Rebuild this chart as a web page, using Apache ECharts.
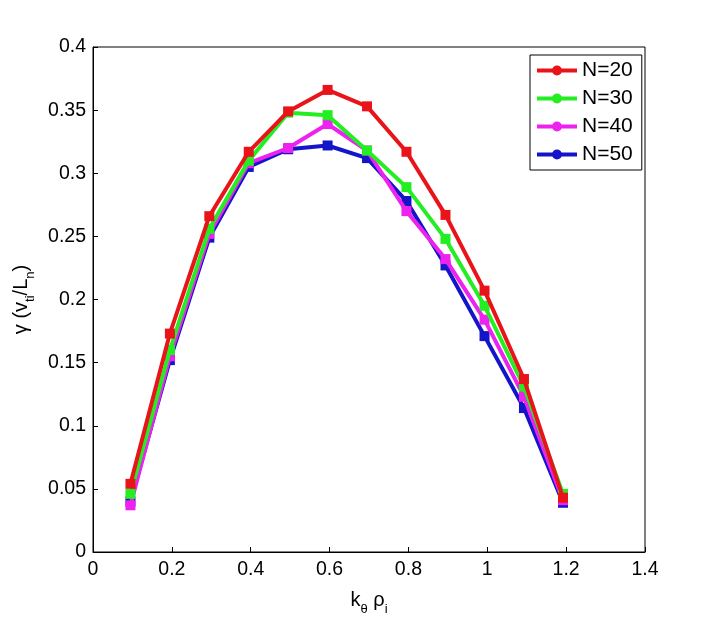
<!DOCTYPE html>
<html><head><meta charset="utf-8">
<script src="https://cdn.jsdelivr.net/npm/echarts@6/dist/echarts.min.js"></script>
<style>html,body{margin:0;padding:0;background:#fff}#c{width:714px;height:621px}</style>
</head><body><div id="c"></div>
<script>
const kValues = [0.095, 0.195, 0.295, 0.395, 0.495, 0.595, 0.695, 0.795, 0.894, 0.993, 1.093, 1.192];
const n20 = [0.054, 0.173, 0.266, 0.317, 0.349, 0.366, 0.353, 0.317, 0.267, 0.207, 0.137, 0.043];
const n30 = [0.046, 0.160, 0.256, 0.310, 0.348, 0.346, 0.318, 0.289, 0.248, 0.195, 0.131, 0.046];
const n40 = [0.037, 0.155, 0.252, 0.308, 0.320, 0.339, 0.318, 0.270, 0.232, 0.184, 0.123, 0.041];
const n50 = [0.040, 0.152, 0.249, 0.305, 0.319, 0.322, 0.312, 0.278, 0.227, 0.171, 0.114, 0.039];
const seriesNames = ['N=20', 'N=30', 'N=40', 'N=50'];
const seriesColors = ['#e8141a', '#22ee22', '#ee22ee', '#1414c8'];
const seriesData = [n20, n30, n40, n50];

const FONT = 'Liberation Sans';
const chart = echarts.init(document.getElementById('c'), null, {renderer: 'canvas'});
const legendIcon = 'path://M0,3H15.5V7H0Z M24.5,3H40V7H24.5Z M15,5A5,5 0 1,1 25,5A5,5 0 1,1 15,5Z';

const axisCommon = {
  axisLine: {show: true, onZero: false, lineStyle: {color: '#000', width: 1}},
  axisTick: {show: true, inside: true, length: 5, lineStyle: {color: '#000'}},
  splitLine: {show: false},
  axisLabel: {color: '#000', fontFamily: FONT, fontSize: 19.5}
};
const nameRich = {
  a: {fontFamily: FONT, fontSize: 20, color: '#000'},
  s: {fontFamily: FONT, fontSize: 13, color: '#000', padding: [18, 0, 0, 0]}
};

chart.setOption({
  animation: false,
  backgroundColor: '#fff',
  grid: {left: 93, right: 69, top: 47, bottom: 69, containLabel: false, outerBoundsMode: 'none',
         show: true, borderColor: '#000', borderWidth: 1, backgroundColor: 'transparent'},
  xAxis: Object.assign({}, axisCommon, {
    type: 'value', min: 0, max: 1.4, interval: 0.2,
    axisLabel: Object.assign({}, axisCommon.axisLabel, {margin: 8, formatter: v => String(+v.toFixed(1))}),
    name: '{a|k}{s|θ}{a| ρ}{s|i}', nameLocation: 'middle', nameGap: 33,
    nameTextStyle: {rich: nameRich}
  }),
  yAxis: Object.assign({}, axisCommon, {
    type: 'value', min: 0, max: 0.4, interval: 0.05,
    axisLabel: Object.assign({}, axisCommon.axisLabel, {margin: 7, formatter: v => String(+v.toFixed(2))}),
    name: '{a|γ (v}{s|ti}{a|/L}{s|n}{a|)}', nameLocation: 'middle', nameGap: 52,
    nameTextStyle: {rich: nameRich}
  }),
  legend: {
    left: 530, top: 55, orient: 'vertical',
    backgroundColor: '#fff', borderColor: '#000', borderWidth: 1,
    padding: [5, 9, 5, 7], itemGap: 7, itemWidth: 40, itemHeight: 10,
    textStyle: {fontFamily: FONT, fontSize: 21, color: '#000'},
    data: seriesNames.map(n => ({name: n, icon: legendIcon}))
  },
  series: seriesNames.map((name, i) => ({
    name: name, type: 'line',
    data: kValues.map((k, j) => [k, seriesData[i][j]]),
    symbol: 'rect', symbolSize: 10,
    lineStyle: {color: seriesColors[i], width: 4},
    itemStyle: {color: seriesColors[i]},
    z: 10 - i
  }))
});
</script></body></html>
